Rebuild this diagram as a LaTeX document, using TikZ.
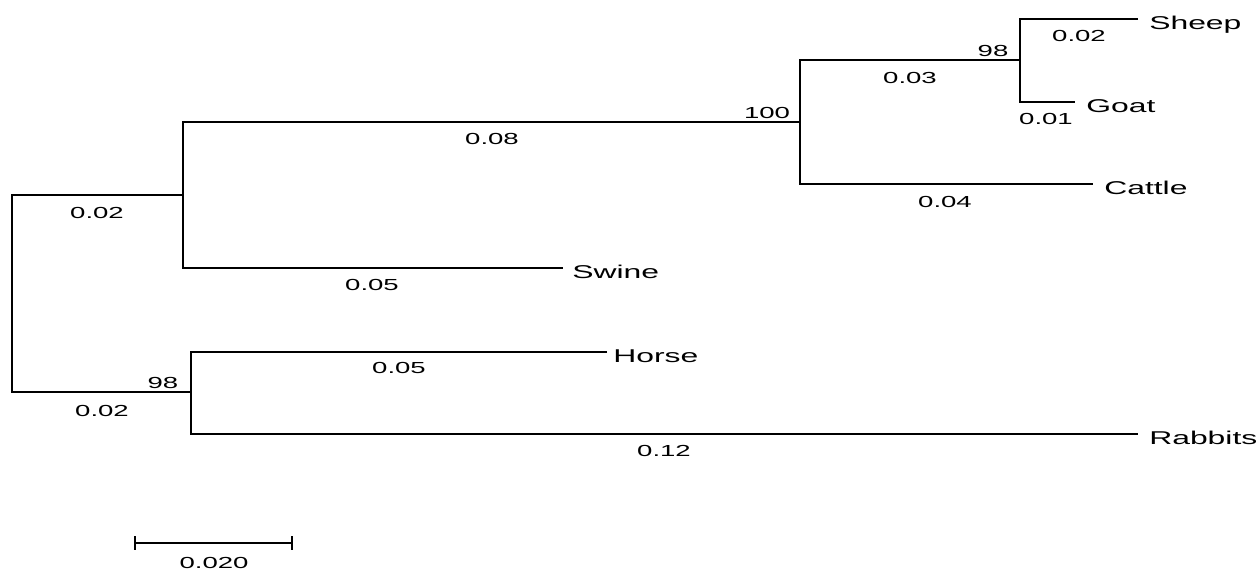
\documentclass[tikz,border=0pt]{standalone}
\usepackage{fontspec}
\setmainfont{Liberation Sans}
\newfontfamily\stretchfont[FakeStretch=1.72]{Liberation Sans}
\usetikzlibrary{calc}
\begin{document}
\begin{tikzpicture}[x=0.75pt,y=-0.75pt,
  branch/.style={line width=2.2pt, draw=black},
  taxon/.style={font=\stretchfont\fontsize{13.9}{16}\selectfont, inner sep=0pt, anchor=base west},
  blen/.style={font=\stretchfont\fontsize{12}{14}\selectfont, inner sep=0pt, text height=8.6pt, text depth=0pt},
]
\useasboundingbox (0,0) rectangle (1258,570);

% internal nodes
\coordinate (root) at (12,293);
\coordinate (nA) at (183,195);
\coordinate (nB) at (800,122);
\coordinate (nC) at (1020,60);
\coordinate (nD) at (191,392);
% tips
\coordinate (eSheep) at (1138,19);
\coordinate (eGoat) at (1075,102);
\coordinate (eCattle) at (1093,184);
\coordinate (eSwine) at (563,268);
\coordinate (eHorse) at (607,352);
\coordinate (eRabbits) at (1138,434);

% branches
\draw[branch] (nA) -| (root) |- (nD);
\draw[branch] (nB) -| (nA) |- (eSwine);
\draw[branch] (nC) -| (nB) |- (eCattle);
\draw[branch] (eSheep) -| (nC) |- (eGoat);
\draw[branch] (eHorse) -| (nD) |- (eRabbits);

% taxon labels
\node[taxon] (sheep) at ($(eSheep)+(11,10.5)$) {Sheep};
\node[taxon] (goat) at ($(eGoat)+(11,10.5)$) {Goat};
\node[taxon] (cattle) at ($(eCattle)+(11,10.5)$) {Cattle};
\node[taxon] (swine) at ($(eSwine)+(9,10.5)$) {Swine};
\node[taxon] (horse) at ($(eHorse)+(6,10.5)$) {Horse};
\node[taxon] (rabbits) at ($(eRabbits)+(11,10.5)$) {Rabbits};

% branch lengths
\node[blen] (lRootTop) at (97,213) {0.02};
\node[blen] (lRootBot) at (102,411) {0.02};
\node[blen] (lA) at (492,139) {0.08};
\node[blen] (lSwine) at (372,285) {0.05};
\node[blen] (lHorse) at (399,368) {0.05};
\node[blen] (lRabbits) at (664,451) {0.12};
\node[blen] (lB) at (910,78) {0.03};
\node[blen] (lCattle) at (945,202) {0.04};
\node[blen] (lSheep) at (1079,36) {0.02};
\node[blen] (lGoat) at (1046,119) {0.01};

% bootstrap values
\node[blen] (bB) at (767,113) {100};
\node[blen] (bC) at (993,51) {98};
\node[blen] (bD) at (163,383) {98};

% scale bar
\coordinate (sbL) at (135,543);
\coordinate (sbR) at (292,543);
\draw[branch] (sbL) -- (sbR);
\draw[branch] ($(sbL)+(0,-7)$) -- ($(sbL)+(0,7)$);
\draw[branch] ($(sbR)+(0,-7)$) -- ($(sbR)+(0,7)$);
\node[blen] (sbLabel) at (214,563) {0.020};
\end{tikzpicture}
\end{document}
